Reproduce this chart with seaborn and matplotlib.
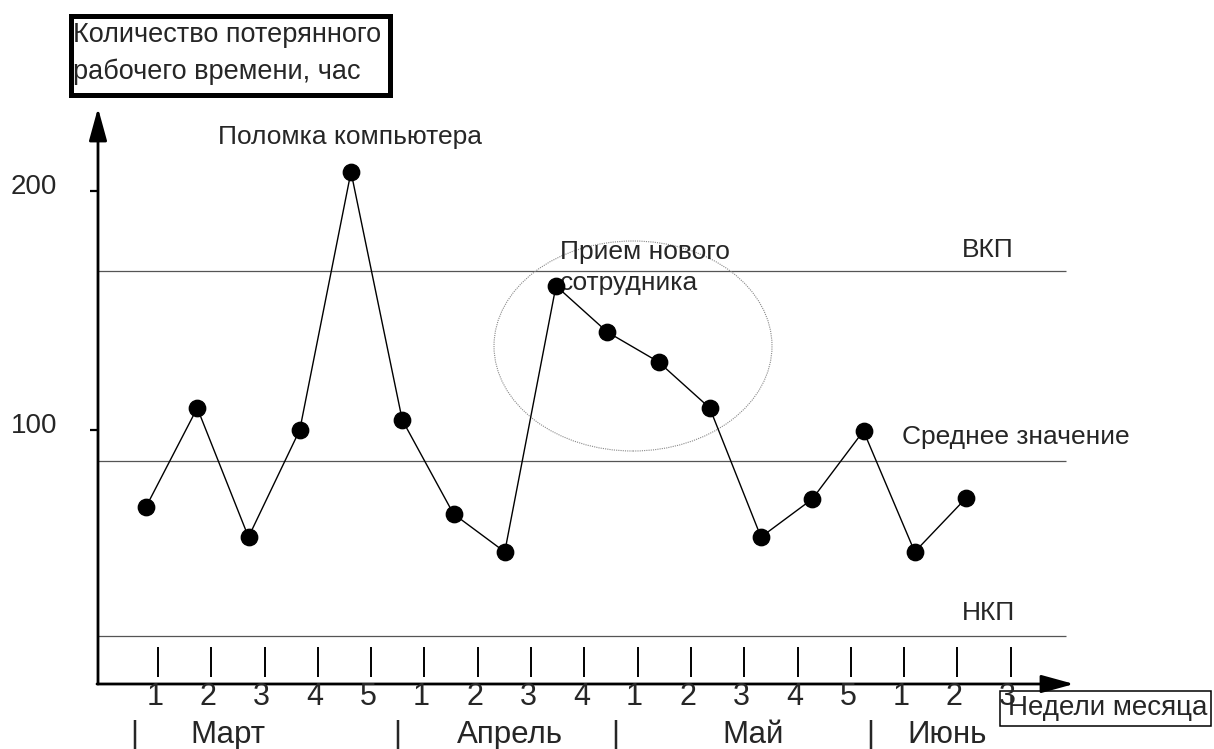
import numpy as np
import matplotlib
matplotlib.use("Agg")
import matplotlib.pyplot as plt
from matplotlib.patches import Ellipse, Rectangle
import seaborn as sns

# data
weeks = ["1", "2", "3", "4", "5", "1", "2", "3", "4", "1", "2", "3", "4", "5", "1", "2", "3"]
months = ["Март", "Апрель", "Май", "Июнь"]
lost_hours = [67.8, 109.2, 55.2, 100.0, 208.0, 104.2, 64.9, 49.0, 160.3,
              141.0, 128.5, 109.2, 55.2, 71.1, 99.6, 49.0, 71.5]
ucl = 166.5
mean_val = 87.0
lcl = 13.8
y_ticks = [100, 200]

sns.set_style("white")
plt.rcParams['font.family'] = ['Liberation Sans', 'DejaVu Sans']

W, H = 1214, 749
fig = plt.figure(figsize=(W / 100, H / 100), dpi=100)
ax = fig.add_axes([0, 0, 1, 1])
ax.axis('off')


# helpers: pixel position of the picture -> data coordinates
def X(px):
    return (px - 146) / 51.25


def V(py):
    return 100 + (430 - py) / 2.39


ax.set_xlim(X(0), X(W))
ax.set_ylim(V(H), V(0))

idx = np.arange(len(lost_hours))

# control lines
x0, x1 = X(98), X(1066)
for val in [ucl, mean_val, lcl]:
    ax.hlines(val, x0, x1, color='#555555', lw=0.9, zorder=1)

# main series
sns.lineplot(x=idx, y=lost_hours, color='black', lw=1, ax=ax, zorder=3)
sns.scatterplot(x=idx, y=lost_hours, color='black', s=140, edgecolor='black',
                ax=ax, zorder=4, legend=False)

# x label box (under the axis arrow and the last week number)
ax.add_patch(Rectangle((X(1000.5), V(725.5)), (1210.5 - 1000.5) / 51.25, (725.5 - 690.5) / 2.39,
                       fill=False, edgecolor='black', lw=1.1, clip_on=False, zorder=2))
ax.text(X(1008), V(708), "Недели месяца", fontsize=20, ha='left', va='center', zorder=2)

# axes with arrows
arr = dict(arrowstyle='-|>,head_length=0.8,head_width=0.22', lw=2, color='black',
           mutation_scale=25, shrinkA=0, shrinkB=0)
ax.annotate('', xy=(X(98), V(108)), xytext=(X(98), V(684)), arrowprops=arr)
ax.annotate('', xy=(X(1074), V(684)), xytext=(X(97), V(684)), arrowprops=arr)

# y ticks
for t in y_ticks:
    ax.hlines(t, X(90), X(98), color='black', lw=1.6)
    ax.text(X(57), t + 1.5, str(t), fontsize=20, ha='right', va='center')

# week marks and labels
for k, w in enumerate(weeks):
    xm = 0.234 + 1.04 * k
    ax.vlines(xm, V(677), V(647), color='black', lw=1.4)
    ax.text(xm - 0.06, V(697), w, fontsize=22, ha='center', va='center', zorder=3)

# month row
for px in [134, 397, 615, 870]:
    ax.text(X(px), V(735), "|", fontsize=22, ha='center', va='center')
for name, px in zip(months, [228, 510, 753, 947]):
    ax.text(X(px), V(735), name, fontsize=22.5, ha='center', va='center')

# annotations
ax.text(X(218), V(137), "Поломка компьютера", fontsize=19, ha='left', va='center')
ax.text(X(560), V(252), "Прием нового", fontsize=19, ha='left', va='center')
ax.text(X(560), V(283), "сотрудника", fontsize=19, ha='left', va='center')
ax.text(X(988), V(250), "ВКП", fontsize=19, ha='center', va='center')
ax.text(X(902), V(437), "Среднее значение", fontsize=19, ha='left', va='center')
ax.text(X(988), V(613), "НКП", fontsize=19, ha='center', va='center')

ell = Ellipse((X(633), V(346)), 278 / 51.25, 210 / 2.39, fill=False,
              edgecolor='#888888', lw=0.8, linestyle=(0, (1, 1)), zorder=2)
ax.add_patch(ell)

# y label box
ax.add_patch(Rectangle((X(70.5), V(94.5)), (389.5 - 70.5) / 51.25, (94.5 - 16.5) / 2.39,
                       fill=False, edgecolor='black', lw=3.6, clip_on=False))
ax.text(X(73), V(35), "Количество потерянного", fontsize=19.5, ha='left', va='center')
ax.text(X(73), V(72), "рабочего времени, час", fontsize=19.5, ha='left', va='center')

fig.savefig("out.png", dpi=100)
